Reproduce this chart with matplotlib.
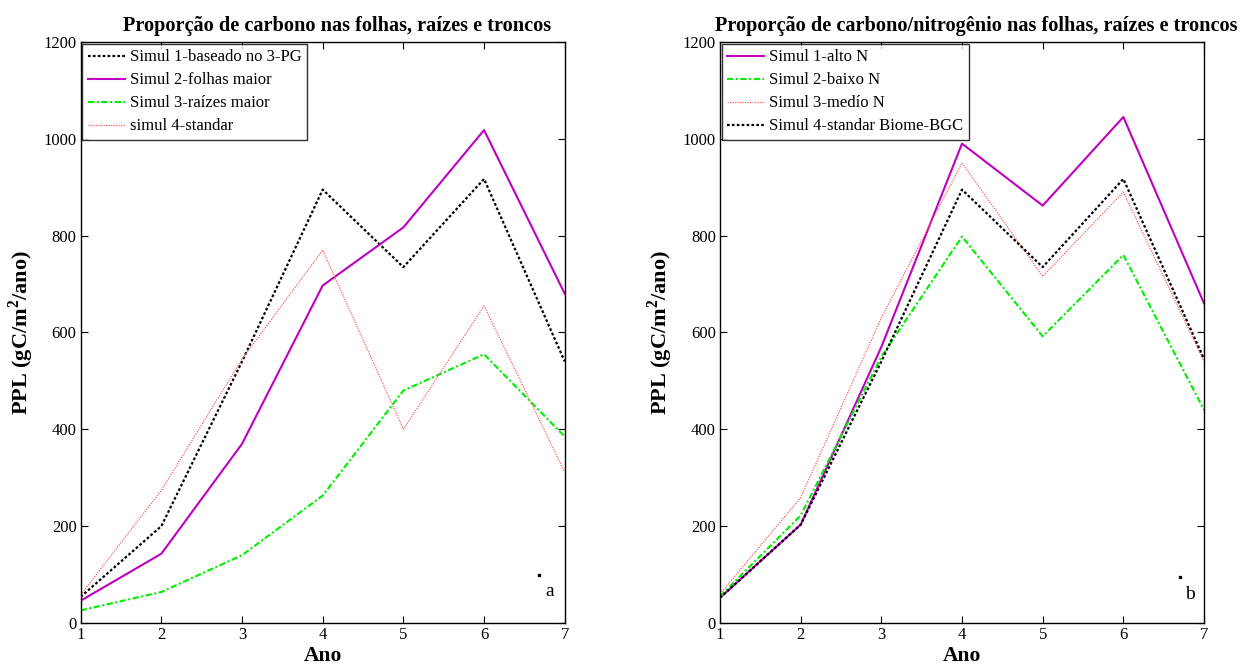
import numpy as np
import matplotlib
matplotlib.use("Agg")
import matplotlib.pyplot as plt

plt.rcParams["font.family"] = ["Liberation Serif", "DejaVu Serif"]
plt.rcParams["mathtext.fontset"] = "custom"
plt.rcParams["mathtext.bf"] = "Liberation Serif:bold"

anos = [1, 2, 3, 4, 5, 6, 7]

# painel a
a_simul1 = [54, 200, 540, 895, 735, 917, 540]
a_simul2 = [46, 143, 370, 697, 817, 1018, 680]
a_simul3 = [26, 64, 140, 263, 480, 555, 385]
a_simul4 = [58, 274, 545, 770, 400, 655, 312]
a_labels = ["Simul 1-baseado no 3-PG", "Simul 2-folhas maior",
            "Simul 3-raízes maior", "simul 4-standar"]

# painel b
b_simul1 = [52, 203, 570, 990, 862, 1045, 660]
b_simul2 = [55, 222, 550, 798, 592, 760, 440]
b_simul3 = [60, 259, 630, 950, 716, 890, 540]
b_simul4 = [52, 203, 540, 895, 735, 917, 545]
b_labels = ["Simul 1-alto N", "Simul 2-baixo N",
            "Simul 3-medío N", "Simul 4-standar Biome-BGC"]

black = dict(color="black", ls=(0, (1.2, 1.0)), lw=1.6)
mag = dict(color="#bf00bf", ls="-", lw=1.5)
green = dict(color="#00ee00", ls=(0, (3, 1.2, 1, 1.2)), lw=1.5)
red = dict(color="#ff6060", ls=(0, (1, 1)), lw=0.9)

fig = plt.figure(figsize=(12.45, 6.68), dpi=100)
ax1 = fig.add_axes([0.0648, 0.0674, 0.3888, 0.8698])
ax2 = fig.add_axes([0.5783, 0.0674, 0.3888, 0.8698])

ax1.plot(anos, a_simul1, label=a_labels[0], **black)
ax1.plot(anos, a_simul2, label=a_labels[1], **mag)
ax1.plot(anos, a_simul3, label=a_labels[2], **green)
ax1.plot(anos, a_simul4, label=a_labels[3], **red)

ax2.plot(anos, b_simul1, label=b_labels[0], **mag)
ax2.plot(anos, b_simul2, label=b_labels[1], **green)
ax2.plot(anos, b_simul3, label=b_labels[2], **red)
ax2.plot(anos, b_simul4, label=b_labels[3], **black)

titles = ["Proporção de carbono nas folhas, raízes e troncos",
          "Proporção de carbono/nitrogênio nas folhas, raízes e troncos"]
letters = [("a", 6.815, 64, 6.68, 99), ("b", 6.825, 58, 6.70, 95)]

for ax, tt, let in zip([ax1, ax2], titles, letters):
    ax.set_xlim(1, 7)
    ax.set_ylim(0, 1200)
    ax.set_xticks(anos)
    ax.set_yticks(np.arange(0, 1201, 200))
    ax.tick_params(direction="in", top=True, right=True, labelsize=12,
                   length=5, width=0.8, pad=3)
    for s in ax.spines.values():
        s.set_linewidth(1.0)
    ax.set_title(tt, fontsize=14.6, fontweight="bold", x=0.529, pad=8)
    ax.set_xlabel("Ano", fontsize=15.5, fontweight="bold", labelpad=2)
    ax.set_ylabel(r"PPL (gC/m$^\mathbf{2}$/ano)", fontsize=16,
                  fontweight="bold")
    ax.yaxis.set_label_coords(-0.092, 0.5)
    leg = ax.legend(loc="upper left", fontsize=12, frameon=True,
                    fancybox=False, edgecolor="black", borderaxespad=0.1,
                    handlelength=2.2, handletextpad=0.3, borderpad=0.35,
                    labelspacing=0.42)
    leg.get_frame().set_linewidth(1.0)
    ax.plot([let[3]], [let[4]], "s", color="black", ms=1.5)
    ax.text(let[1], let[2], let[0], fontsize=14, ha="center", va="center")

fig.savefig("out.png", dpi=100)
